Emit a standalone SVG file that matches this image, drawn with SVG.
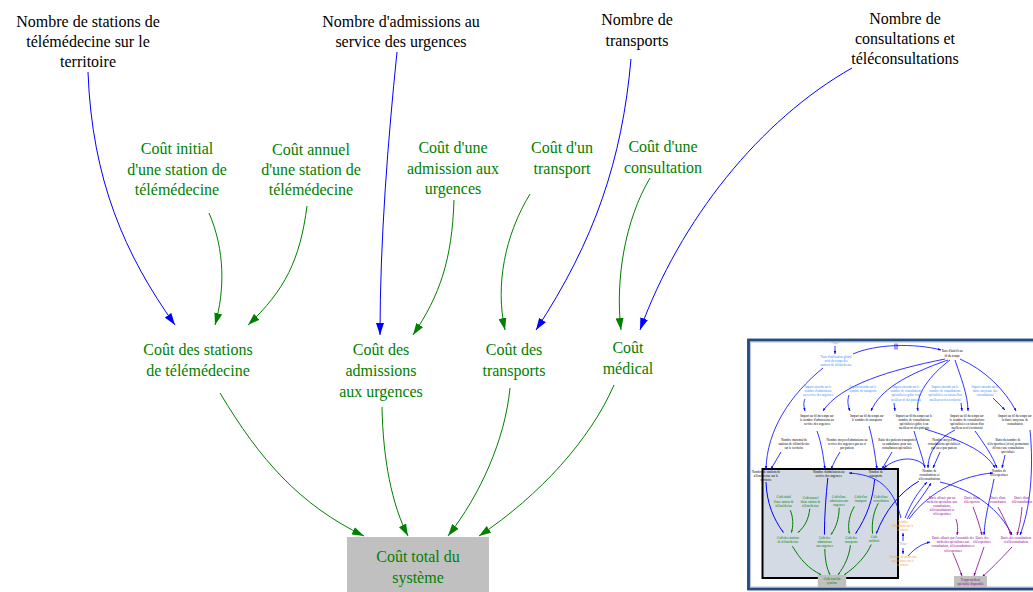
<svg xmlns="http://www.w3.org/2000/svg" xmlns:xlink="http://www.w3.org/1999/xlink" width="1033" height="592" viewBox="0 0 1033 592" font-family="'Liberation Serif', 'Times New Roman', serif">
<defs>
<style>
text{font-family:'Liberation Serif','Times New Roman',serif}
.t{font-size:16px;text-anchor:middle;fill:#000}
.g{fill:#008000}
.cb{fill:none;stroke:#0000ff;stroke-width:1;vector-effect:non-scaling-stroke}
.cg{fill:none;stroke:#008000;stroke-width:1;vector-effect:non-scaling-stroke}
.box{fill:#c0c0c0}
.m{font-size:3.2px;text-anchor:middle;fill:#000}
.mlb{fill:#3a8cff}
.mor{fill:#f5a030}
.mpu{fill:#8b008b}
.mgr{fill:#a0a0a0}
.mcb{fill:none;stroke:#0000ff;stroke-width:0.8}
.mcp{fill:none;stroke:#8b008b;stroke-width:0.8}
</style>
<marker id="ab" markerUnits="userSpaceOnUse" viewBox="0 0 12 8" markerWidth="12" markerHeight="8" refX="12" refY="4" orient="auto"><path d="M0,0 L12,4 L0,8 z" fill="#0000ff"/></marker>
<marker id="ag" markerUnits="userSpaceOnUse" viewBox="0 0 12 8" markerWidth="12" markerHeight="8" refX="12" refY="4" orient="auto"><path d="M0,0 L12,4 L0,8 z" fill="#008000"/></marker>
<marker id="mb" markerUnits="userSpaceOnUse" viewBox="0 0 3 2.4" markerWidth="3" markerHeight="2.4" refX="3" refY="1.2" orient="auto"><path d="M0,0 L3,1.2 L0,2.4 z" fill="#0000ff"/></marker>
<marker id="mp" markerUnits="userSpaceOnUse" viewBox="0 0 3 2.4" markerWidth="3" markerHeight="2.4" refX="3" refY="1.2" orient="auto"><path d="M0,0 L3,1.2 L0,2.4 z" fill="#8b008b"/></marker>
</defs>
<rect width="1033" height="592" fill="#fff"/>

<g id="main" font-family="'Liberation Serif', 'Times New Roman', serif">
<g id="connectors">
<path class="cb" marker-end="url(#ab)" d="M88,72 C92,180 125,255 175,325"/>
<path class="cb" marker-end="url(#ab)" d="M397,52 C388,140 380,240 380,335"/>
<path class="cb" marker-end="url(#ab)" d="M631,59 C622,160 595,240 536,330"/>
<path class="cb" marker-end="url(#ab)" d="M852,68 C760,120 680,220 640,330"/>
<path class="cg" marker-end="url(#ag)" d="M209,213 C225,250 225,290 215,325"/>
<path class="cg" marker-end="url(#ag)" d="M307,206 C300,260 285,290 248,325"/>
<path class="cg" marker-end="url(#ag)" d="M454,200 C452,260 440,295 413,335"/>
<path class="cg" marker-end="url(#ag)" d="M530,194 C505,235 495,285 505,330"/>
<path class="cg" marker-end="url(#ag)" d="M650,178 C625,220 615,280 621,330"/>
<path class="cg" marker-end="url(#ag)" d="M220,393 C260,460 300,505 364,536"/>
<path class="cg" marker-end="url(#ag)" d="M382,407 C383,460 392,505 408,536"/>
<path class="cg" marker-end="url(#ag)" d="M510,388 C505,440 480,495 448,536"/>
<path class="cg" marker-end="url(#ag)" d="M614,385 C590,440 540,495 479,536"/>
</g>
<g id="n-nb-stations"><text class="t" x="88" y="27">Nombre de stations de</text><text class="t" x="88" y="47">télémédecine sur le</text><text class="t" x="88" y="67">territoire</text></g>
<g id="n-nb-admissions"><text class="t" x="401" y="27">Nombre d'admissions au</text><text class="t" x="401" y="47">service des urgences</text></g>
<g id="n-nb-transports"><text class="t" x="637" y="25">Nombre de</text><text class="t" x="637" y="46">transports</text></g>
<g id="n-nb-consultations"><text class="t" x="905" y="24">Nombre de</text><text class="t" x="905" y="44">consultations et</text><text class="t" x="905" y="64">téléconsultations</text></g>
<g id="n-cout-initial"><text class="t g" x="177" y="154">Coût initial</text><text class="t g" x="177" y="175">d'une station de</text><text class="t g" x="177" y="195">télémédecine</text></g>
<g id="n-cout-annuel"><text class="t g" x="311" y="155">Coût annuel</text><text class="t g" x="311" y="175">d'une station de</text><text class="t g" x="311" y="195">télémédecine</text></g>
<g id="n-cout-admission"><text class="t g" x="453" y="153">Coût d'une</text><text class="t g" x="453" y="174">admission aux</text><text class="t g" x="453" y="194">urgences</text></g>
<g id="n-cout-transport"><text class="t g" x="562" y="153">Coût d'un</text><text class="t g" x="562" y="174">transport</text></g>
<g id="n-cout-consultation"><text class="t g" x="663" y="152">Coût d'une</text><text class="t g" x="663" y="173">consultation</text></g>
<g id="n-cout-stations"><text class="t g" x="198" y="355">Coût des stations</text><text class="t g" x="198" y="376">de télémédecine</text></g>
<g id="n-cout-admissions"><text class="t g" x="381" y="355">Coût des</text><text class="t g" x="381" y="376">admissions</text><text class="t g" x="381" y="397">aux urgences</text></g>
<g id="n-cout-transports"><text class="t g" x="514" y="355">Coût des</text><text class="t g" x="514" y="376">transports</text></g>
<g id="n-cout-medical"><text class="t g" x="628" y="353">Coût</text><text class="t g" x="628" y="374">médical</text></g>
<g id="n-cout-total"><rect class="box" x="347" y="537" width="142" height="70"/><text class="t g" x="418" y="562">Coût total du</text><text class="t g" x="418" y="583">système</text></g>
</g>

<g id="minimap" font-family="'Liberation Serif', 'Times New Roman', serif">
<rect x="748.5" y="340" width="300" height="249" fill="#fff" stroke="#264a7c" stroke-width="2.5"/>
<rect x="750.5" y="342" width="300" height="245" fill="none" stroke="#b8c7dc" stroke-width="1.2"/>
<rect x="762.5" y="469" width="135.5" height="109" fill="#d3dae4" stroke="#000" stroke-width="2"/>
<use xlink:href="#main" href="#main" transform="translate(748.4 467.6) scale(0.2)"/>
<g id="mini-connectors">
<path class="mcb" marker-end="url(#mb)" d="M835,346 L835,354"/>
<path class="mcb" marker-end="url(#mb)" d="M853,354 C875,344 915,343 941,350"/>
<path d="M895,343.5 L895,349.5 M897,343.5 L897,349.5" stroke="#0000ff" stroke-width="0.8"/>
<path class="mcb" marker-end="url(#mb)" d="M823,368 C790,395 767,430 766,469"/>
<path class="mcb" marker-end="url(#mb)" d="M945,359 C890,370 840,385 823,411"/>
<path class="mcb" marker-end="url(#mb)" d="M948,360 C905,375 880,390 871,411"/>
<path class="mcb" marker-end="url(#mb)" d="M950,360 C930,375 915,395 918,411"/>
<path class="mcb" marker-end="url(#mb)" d="M955,360 C960,375 968,395 968,411"/>
<path class="mcb" marker-end="url(#mb)" d="M960,359 C985,370 1005,390 1016,411"/>
<path class="mcb" marker-end="url(#mb)" d="M805,399 C803,403 804,407 805,411"/>
<path class="mcb" marker-end="url(#mb)" d="M849,395 C847,401 848,406 850,411"/>
<path class="mcb" marker-end="url(#mb)" d="M894,403 L895,411"/>
<path class="mcb" marker-end="url(#mb)" d="M961,403 L962,411"/>
<path class="mcb" marker-end="url(#mb)" d="M993,398 L1005,410"/>
<path class="mcb" marker-end="url(#mb)" d="M817,431 C822,445 823,455 825,469"/>
<path class="mcb" marker-end="url(#mb)" d="M840,452 C836,458 834,463 831,469"/>
<path class="mcb" marker-end="url(#mb)" d="M781,452 L771,469"/>
<path class="mcb" marker-end="url(#mb)" d="M869,426 C873,440 875,455 877,469"/>
<path class="mcb" marker-end="url(#mb)" d="M892,452 L882,469"/>
<path class="mcb" marker-end="url(#mb)" d="M925,466 C915,455 895,458 884,468"/>
<path class="mcb" marker-end="url(#mb)" d="M914,431 C918,445 922,455 925,468"/>
<path class="mcb" marker-end="url(#mb)" d="M955,430 C935,440 928,455 928,468"/>
<path class="mcb" marker-end="url(#mb)" d="M940,452 L933,468"/>
<path class="mcb" marker-end="url(#mb)" d="M925,429 C960,440 985,450 995,468"/>
<path class="mcb" marker-end="url(#mb)" d="M975,431 C985,445 992,455 997,468"/>
<path class="mcb" marker-end="url(#mb)" d="M1005,455 L1002,468"/>
<path class="mcb" marker-end="url(#mb)" d="M901,518 C895,495 885,475 849,473"/>
<path class="mcb" marker-end="url(#mb)" d="M905,518 C912,500 920,490 927,482"/>
<path class="mcb" marker-end="url(#mb)" d="M907,519 C915,505 924,495 931,483"/>
<path class="mcb" marker-end="url(#mb)" d="M909,519 C930,490 965,475 993,473"/>
<path class="mcb" marker-end="url(#mb)" d="M940,482 C975,490 1000,510 1012,535"/>
<path class="mcb" marker-end="url(#mb)" d="M1030,430 C1034,470 1030,510 1020,535"/>
<path class="mcb" marker-end="url(#mb)" d="M994,479 C990,500 985,515 984,535"/>
<path class="mcb" marker-end="url(#mb)" d="M903,541 L903,533"/>
<path class="mcb" marker-end="url(#mb)" d="M903,548 L903,554"/>
<path class="mcb" marker-end="url(#mb)" d="M908,556 C915,548 922,544 930,542"/>
<path class="mcp" marker-end="url(#mp)" d="M956,519 C958,525 958,530 957,535"/>
<path class="mcp" marker-end="url(#mp)" d="M973,507 C977,517 980,527 982,535"/>
<path class="mcp" marker-end="url(#mp)" d="M998,507 C1004,518 1008,527 1011,535"/>
<path class="mcp" marker-end="url(#mp)" d="M1022,507 C1021,520 1019,528 1017,535"/>
<path class="mcp" marker-end="url(#mp)" d="M953,553 C957,563 960,570 962,576"/>
<path class="mcp" marker-end="url(#mp)" d="M984,547 C981,557 977,566 974,576"/>
<path class="mcp" marker-end="url(#mp)" d="M1012,547 C1000,560 990,570 982,577"/>
</g>
<g id="m-time1"><text class="m mgr" x="835" y="344">&lt;Time&gt;</text></g>
<g id="m-taux-util"><text class="m mlb" x="836" y="358">Taux d'utilisation global</text><text class="m mlb" x="836" y="362">actif du temps des</text><text class="m mlb" x="836" y="366">stations de télémédecine</text></g>
<g id="m-taux-interet"><text class="m" x="952" y="352">Taux d'intérêt au</text><text class="m" x="952" y="357">fil du temps</text></g>
<g id="m-ia-adm"><text class="m mlb" x="818" y="388">Impact attendu sur le</text><text class="m mlb" x="818" y="392">nombre d'admissions</text><text class="m mlb" x="818" y="396">au service des urgences</text></g>
<g id="m-ia-tr"><text class="m mlb" x="863" y="388">Impact attendu sur le</text><text class="m mlb" x="863" y="392">nombre de transports</text></g>
<g id="m-ia-tri"><text class="m mlb" x="906" y="388">Impact attendu sur le</text><text class="m mlb" x="906" y="392">nombre de consultations</text><text class="m mlb" x="906" y="396">spécialisées grâce à un</text><text class="m mlb" x="906" y="401">meilleur tri des patients</text></g>
<g id="m-ia-acc"><text class="m mlb" x="945" y="388">Impact attendu sur le</text><text class="m mlb" x="945" y="392">nombre de consultations</text><text class="m mlb" x="945" y="396">spécialisées en raison d'un</text><text class="m mlb" x="945" y="401">meilleur accès territorial</text></g>
<g id="m-ia-dur"><text class="m mlb" x="985" y="388">Impact attendu sur la</text><text class="m mlb" x="985" y="392">durée moyenne des</text><text class="m mlb" x="985" y="396">consultations</text></g>
<g id="m-if-adm"><text class="m" x="817" y="417">Impact au fil du temps sur</text><text class="m" x="817" y="421">le nombre d'admissions au</text><text class="m" x="817" y="425">service des urgences</text></g>
<g id="m-if-tr"><text class="m" x="867" y="417">Impact au fil du temps sur</text><text class="m" x="867" y="421">le nombre de transports</text></g>
<g id="m-if-tri"><text class="m" x="914" y="417">Impact au fil du temps sur le</text><text class="m" x="914" y="421">nombre de consultations</text><text class="m" x="914" y="425">spécialisées grâce à un</text><text class="m" x="914" y="429">meilleur tri des patients</text></g>
<g id="m-if-acc"><text class="m" x="967" y="417">Impact au fil du temps sur</text><text class="m" x="967" y="421">le nombre de consultations</text><text class="m" x="967" y="425">spécialisées en raison d'un</text><text class="m" x="967" y="429">meilleur accès territorial</text></g>
<g id="m-if-dur"><text class="m" x="1015" y="417">Impact au fil du temps sur</text><text class="m" x="1015" y="421">la durée moyenne de</text><text class="m" x="1015" y="425">consultation</text></g>
<g id="m-nb-max"><text class="m" x="794" y="441">Nombre maximal de</text><text class="m" x="794" y="445">stations de télémédecine</text><text class="m" x="794" y="449">sur le territoire</text></g>
<g id="m-nb-moy-adm"><text class="m" x="847" y="441">Nombre moyen d'admissions au</text><text class="m" x="847" y="445">service des urgences par an et</text><text class="m" x="847" y="449">par patient</text></g>
<g id="m-ratio-tr"><text class="m" x="897" y="441">Ratio des patients transportés</text><text class="m" x="897" y="445">en ambulance pour une</text><text class="m" x="897" y="449">consultation spécialisée</text></g>
<g id="m-nb-moy-cons"><text class="m" x="944" y="441">Nombre moyen de</text><text class="m" x="944" y="445">consultations spécialisées</text><text class="m" x="944" y="449">par an et par patient</text></g>
<g id="m-ratio-te"><text class="m" x="1008" y="441">Ratio du nombre de</text><text class="m" x="1008" y="445">téléexpertises (et/ou) permettant</text><text class="m" x="1008" y="449">d'éviter une consultation</text><text class="m" x="1008" y="453">spécialisée</text></g>
<g id="m-nb-te"><text class="m" x="999" y="472">Nombre de</text><text class="m" x="999" y="476">téléexpertises</text></g>
<g id="m-habitants"><text class="m mor" x="903" y="523">Nombre</text><text class="m mor" x="903" y="527">d'habitants sur le</text><text class="m mor" x="903" y="531">territoire</text></g>
<g id="m-time2"><text class="m mgr" x="903" y="545">&lt;Time&gt;</text></g>
<g id="m-medecins"><text class="m mor" x="903" y="558">Nombre de médecins</text><text class="m mor" x="903" y="562">spécialistes sur le</text><text class="m mor" x="903" y="566">territoire</text></g>
<g id="m-duree-alloc"><text class="m mpu" x="942" y="499">Durée allouée par un</text><text class="m mpu" x="942" y="503">médecin spécialiste aux</text><text class="m mpu" x="942" y="507">consultations,</text><text class="m mpu" x="942" y="511">téléconsultations et</text><text class="m mpu" x="942" y="515">téléexpertises</text></g>
<g id="m-duree-te1"><text class="m mpu" x="972" y="499">Durée d'une</text><text class="m mpu" x="972" y="503">téléexpertise</text></g>
<g id="m-duree-c1"><text class="m mpu" x="998" y="499">Durée d'une</text><text class="m mpu" x="998" y="503">consultation</text></g>
<g id="m-duree-tc1"><text class="m mpu" x="1022" y="499">Durée d'une</text><text class="m mpu" x="1022" y="503">téléconsultation</text></g>
<g id="m-duree-ens"><text class="m mpu" x="953" y="539">Durée allouée par l'ensemble des</text><text class="m mpu" x="953" y="543">médecins spécialistes aux</text><text class="m mpu" x="953" y="547">consultations, téléconsultations et</text><text class="m mpu" x="953" y="552">téléexpertises</text></g>
<g id="m-duree-te"><text class="m mpu" x="982" y="539">Durée des</text><text class="m mpu" x="982" y="543">téléexpertises</text></g>
<g id="m-duree-cons"><text class="m mpu" x="1016" y="539">Durée des consultations</text><text class="m mpu" x="1016" y="543">et téléconsultations</text></g>
<g id="m-temps"><rect class="box" x="954" y="576" width="33" height="14"/><text class="m mpu" x="970.5" y="581">Temps médical</text><text class="m mpu" x="970.5" y="585">spécialisé disponible</text></g>
<rect x="748.5" y="340" width="300" height="249" fill="none" stroke="#264a7c" stroke-width="2.5"/>
</g>
</svg>
